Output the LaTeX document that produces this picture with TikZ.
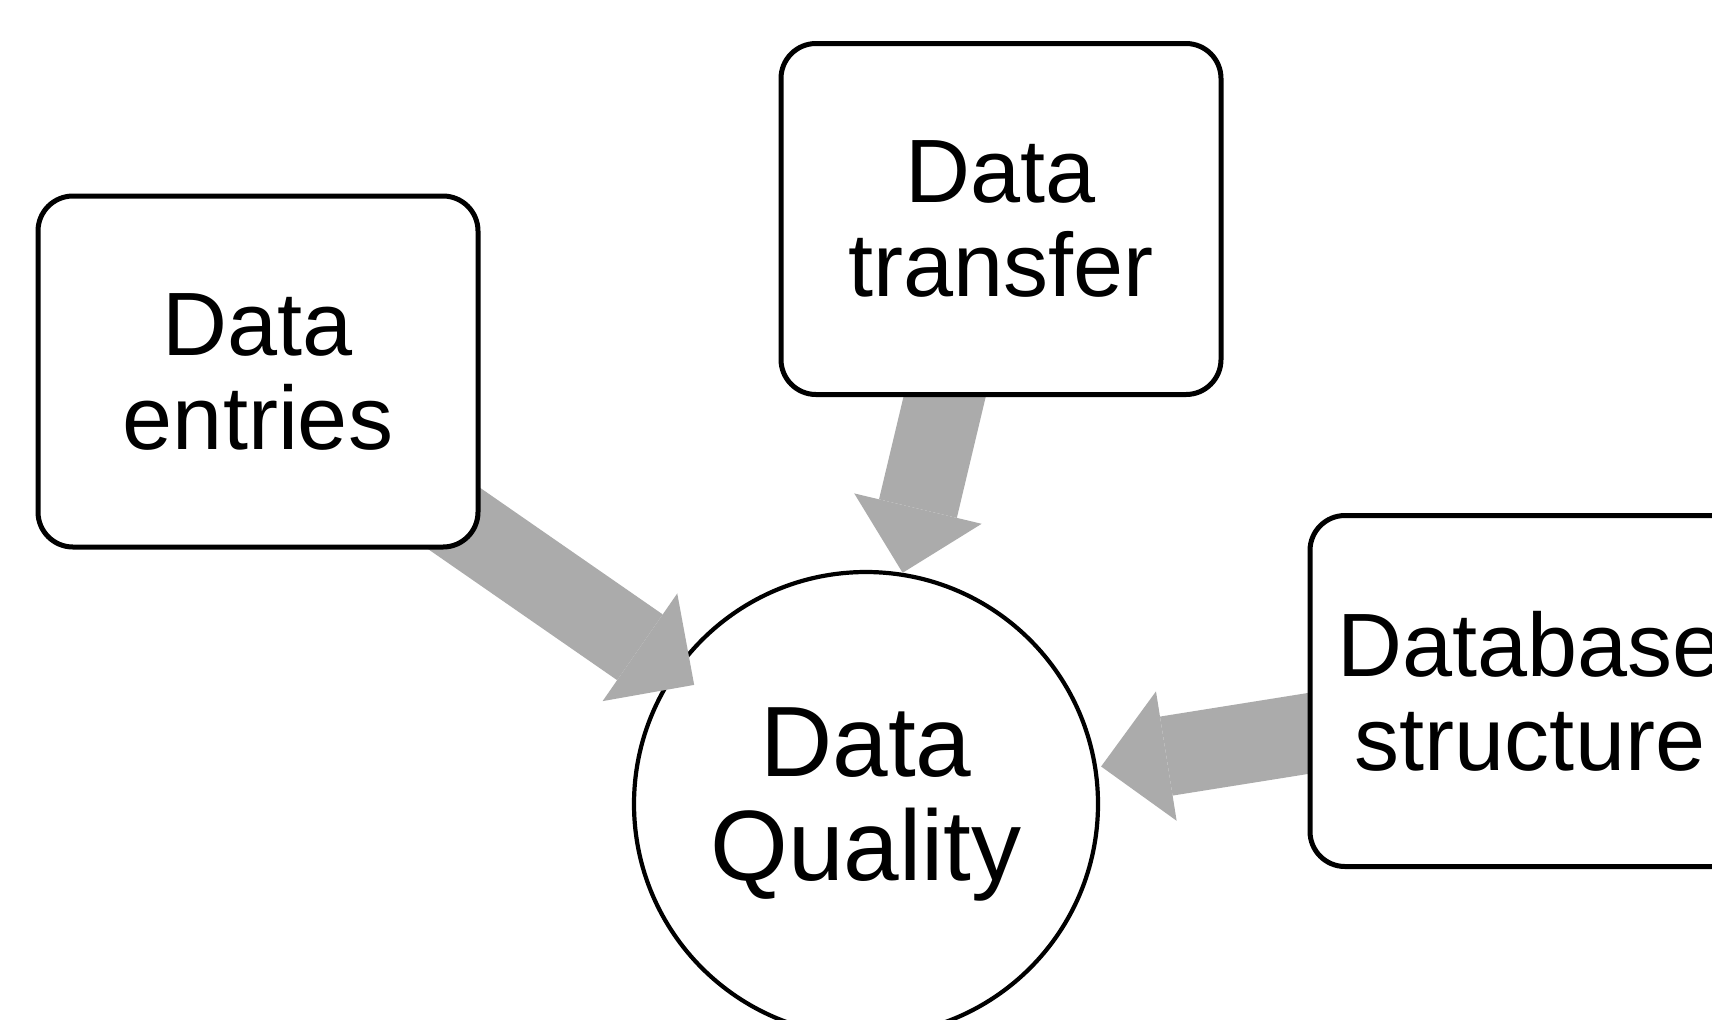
\documentclass[tikz,border=0pt]{standalone}
\usepackage{fontspec}
\setmainfont{Liberation Sans}
\usetikzlibrary{arrows.meta,backgrounds}
\definecolor{flowgray}{RGB}{171,171,171}

\begin{document}
\begin{tikzpicture}[x=0.5pt, y=-0.5pt,
    factorbox/.style={rectangle, draw, line width=2.5pt, rounded corners=17.5pt, fill=white,
      minimum width=220pt, minimum height=175.5pt, inner sep=0pt, align=center,
      font=\fontsize{45}{47}\selectfont},
    qualitycircle/.style={circle, draw, line width=2.1pt, fill=white, minimum size=232pt,
      inner sep=0pt, align=center, font=\fontsize{50}{52}\selectfont},
    flowarrow/.style={flowgray, line width=40pt,
      -{Triangle[length=33pt, width=65.5pt, line width=0pt]}}]
  \useasboundingbox (0,0) rectangle (1712,1019);

  \node[factorbox] (entries) at (258,371.5) {Data\\entries};
  \node[factorbox] (transfer) at (1001,219) {Data\\transfer};
  \node[factorbox] (structure) at (1530,691) {Database\\structure};

  \begin{scope}[on background layer]
    \fill[white] (0,0) rectangle (1712,1019);
    \node[qualitycircle] (quality) at (866,804) {Data\\Quality};

    \draw[flowarrow, shorten >=-12.5pt] ([yshift=-5.5pt]entries.center) -- (quality);
    \draw[flowarrow] ([xshift=-7pt]transfer.center) -- (quality.81);
    \draw[flowarrow, shorten >=2pt] ([yshift=-3.5pt]structure.center) -- (quality);
  \end{scope}
\end{tikzpicture}
\end{document}
